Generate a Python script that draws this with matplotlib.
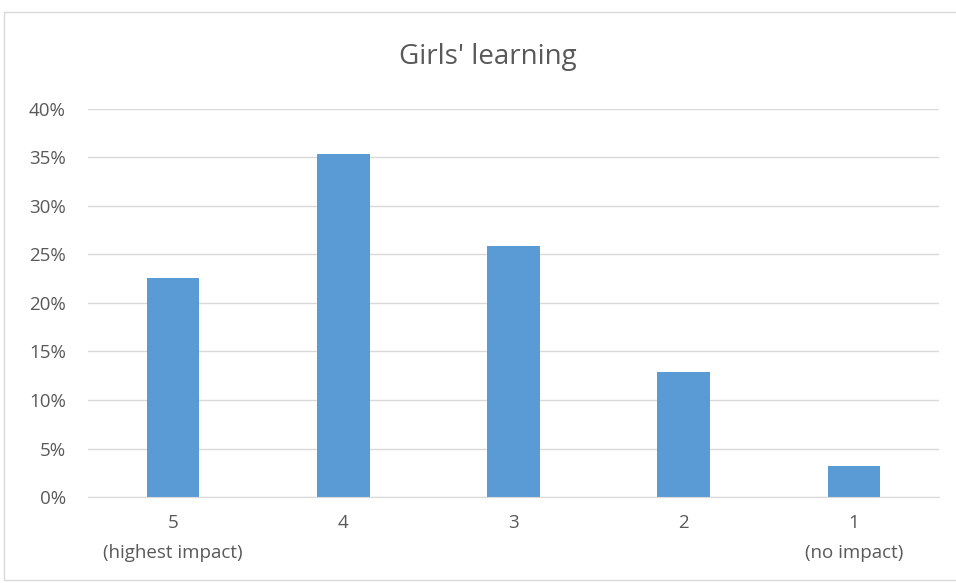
import matplotlib
matplotlib.use("Agg")
import matplotlib.pyplot as plt
from matplotlib.ticker import FuncFormatter, MultipleLocator
from matplotlib.patches import Rectangle

categories = ["5\n(highest impact)", "4", "3", "2", "1\n(no impact)"]
values = [22.6, 35.4, 25.9, 12.9, 3.2]

plt.rcParams['font.family'] = ['Open Sans', 'DejaVu Sans']

fig = plt.figure(figsize=(9.56, 5.83), dpi=100)
W, H = 956, 583
ax = fig.add_axes([88 / W, 1 - 497 / H, (939 - 88) / W, (497 - 109) / H])

x = list(range(len(categories)))
ax.bar(x, values, width=0.31, color="#5b9bd5", zorder=3)
ax.set_xlim(-0.5, len(categories) - 0.5)
ax.set_ylim(0, 40)
ax.yaxis.set_major_locator(MultipleLocator(5))
ax.yaxis.set_major_formatter(FuncFormatter(lambda v, p: f"{v:.0f}%"))
ax.grid(axis="y", color="#d9d9d9", linewidth=1, zorder=0)
ax.set_axisbelow(True)
for s in ["top", "right", "left"]:
    ax.spines[s].set_visible(False)
ax.spines["bottom"].set_color("#d9d9d9")
ax.spines["bottom"].set_zorder(4)
ax.tick_params(axis="both", length=0, colors="#595959", labelsize=13.5)
ax.tick_params(axis="y", pad=16)
ax.tick_params(axis="x", pad=12)
ax.set_xticks(x)
ax.set_xticklabels(categories, linespacing=1.85)

fig.text(488 / W, 1 - 57 / H, "Girls' learning", ha="center", va="center",
         fontsize=20, color="#595959")

fig.patches.append(Rectangle((4 / W, 0.005), 1.0, 1 - 12 / H - 0.005,
                             transform=fig.transFigure, fill=False,
                             edgecolor="#d9d9d9", linewidth=1))

fig.savefig("out.png", dpi=100)
